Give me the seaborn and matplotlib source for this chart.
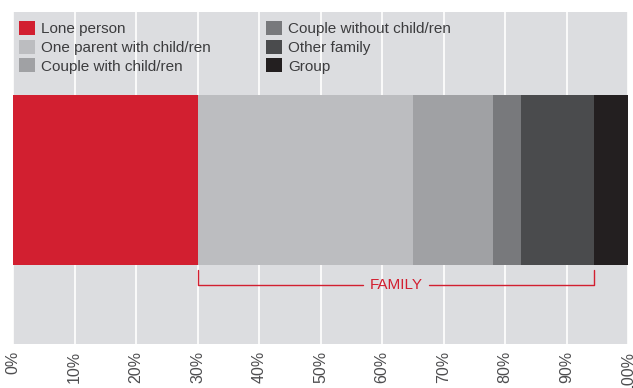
import matplotlib
matplotlib.use("Agg")
import matplotlib.pyplot as plt
import seaborn as sns
import pandas as pd
import numpy as np
from matplotlib.patches import Patch

# ---- data ----
categories = ["Lone person", "One parent with child/ren", "Couple with child/ren",
              "Couple without child/ren", "Other family", "Group"]
shares = [30.1, 34.9, 13.0, 4.6, 11.9, 5.5]
colors = ["#d21f30", "#bcbdc0", "#a0a1a4", "#78797c", "#4a4b4d", "#231f20"]
tick_values = [0, 10, 20, 30, 40, 50, 60, 70, 80, 90, 100]
tick_labels = [f"{v}%" for v in tick_values]
family_label = "FAMILY"

sns.set_style("white")
plt.rcParams["font.family"] = ["Liberation Sans", "DejaVu Sans"]

cum = np.cumsum(shares)
df = pd.DataFrame({"category": categories, "cum": cum, "row": [""] * len(categories)})
palette = dict(zip(categories, colors))

W, H = 633, 388
fig = plt.figure(figsize=(W / 100, H / 100), dpi=100)
ax = fig.add_axes([13 / W, 44 / H, 615 / W, 332 / H])
ax.set_facecolor("#dcdde0")

sns.barplot(data=df, x="cum", y="row", hue="category", hue_order=categories[::-1],
            palette=palette, dodge=False, width=1.0, saturation=1, linewidth=0,
            legend=False, orient="h", ax=ax, zorder=3)

ax.set_xlim(0, 100)
ax.set_ylim(0.965, -0.988)
ax.set_xticks(tick_values)
ax.set_xticklabels(tick_labels, rotation=90, fontsize=11.5, color="#4d4d4f")
ax.set_yticks([])
ax.set_xlabel("")
ax.set_ylabel("")
ax.tick_params(axis="x", length=0, pad=5)
ax.grid(axis="x", color="white", linewidth=1.2, zorder=0)
ax.set_axisbelow(True)
for s in ax.spines.values():
    s.set_visible(False)

# family bracket
fam_start = cum[0]
fam_end = cum[4]
red = "#d21f30"
y_line = 0.615
y_tick = 0.53
gap_l, gap_r = 56.9, 67.6
ax.plot([fam_start, fam_start, gap_l], [y_tick, y_line, y_line], color=red, lw=1, zorder=4)
ax.plot([gap_r, fam_end, fam_end], [y_line, y_line, y_tick], color=red, lw=1, zorder=4)
ax.text((gap_l + gap_r) / 2, y_line, family_label, color=red, fontsize=11,
        ha="center", va="center", zorder=4)

# legend in two columns
handles = [Patch(facecolor=c, edgecolor="none") for c in colors]
kw = dict(frameon=False, fontsize=11, handlelength=1.05, handleheight=1.05,
          handletextpad=0.4, labelspacing=0.22, borderpad=0, borderaxespad=0,
          loc="upper left", bbox_transform=fig.transFigure, labelcolor="#3c3c3e")
leg1 = ax.legend(handles[:3], categories[:3], bbox_to_anchor=(19 / W, 1 - 21 / H), **kw)
ax.add_artist(leg1)
ax.legend(handles[3:], categories[3:], bbox_to_anchor=(266 / W, 1 - 21 / H), **kw)

fig.savefig("out.png", dpi=100)
